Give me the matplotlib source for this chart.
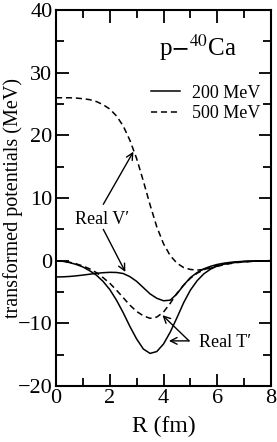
import matplotlib
matplotlib.use("Agg")
import matplotlib.pyplot as plt
from matplotlib.ticker import MultipleLocator

plt.rcParams['font.family'] = ['Liberation Serif', 'DejaVu Serif']
plt.rcParams['mathtext.fontset'] = 'stix'

# --- data (R in fm, potentials in MeV) ---
R = [0.0, 0.25, 0.5, 0.75, 1.0, 1.25, 1.5, 1.75, 2.0, 2.25, 2.5, 2.75, 3.0, 3.25,
     3.5, 3.75, 4.0, 4.25, 4.5, 4.75, 5.0, 5.25, 5.5, 5.75, 6.0, 6.25, 6.5, 6.75,
     7.0, 7.25, 7.5, 7.75, 8.0]

v_200 = [-2.6, -2.58, -2.52, -2.42, -2.3, -2.16, -2.02, -1.92, -1.86, -1.88, -2.05, -2.55,
         -3.3, -4.3, -5.3, -6.0, -6.4, -6.3, -5.3, -3.9, -2.7, -1.9, -1.3, -0.9,
         -0.6, -0.4, -0.26, -0.17, -0.1, -0.06, -0.03, -0.015, 0.0]

v_500 = [26.0, 26.0, 26.0, 25.95, 25.85, 25.7, 25.4, 24.9, 24.2, 23.1, 21.5, 19.2,
         16.3, 12.7, 8.9, 5.4, 2.7, 0.8, -0.4, -1.1, -1.4, -1.5, -1.4, -1.2,
         -0.9, -0.65, -0.45, -0.3, -0.2, -0.13, -0.08, -0.04, 0.0]

t_200 = [0.0, -0.1, -0.3, -0.6, -1.0, -1.6, -2.3, -3.3, -4.6, -6.3, -8.3, -10.5,
         -12.5, -14.1, -14.8, -14.5, -13.3, -11.4, -9.1, -6.7, -4.7, -3.2, -2.1, -1.35,
         -0.85, -0.55, -0.35, -0.22, -0.14, -0.09, -0.05, -0.02, 0.0]

t_500 = [0.0, -0.08, -0.25, -0.5, -0.85, -1.3, -1.9, -2.7, -3.6, -4.7, -5.9, -7.1,
         -8.1, -8.8, -9.2, -9.0, -8.2, -6.8, -5.2, -3.9, -2.8, -2.0, -1.45, -1.05,
         -0.75, -0.52, -0.36, -0.24, -0.16, -0.1, -0.06, -0.03, 0.0]

fig = plt.figure(figsize=(2.77, 4.42), dpi=100)
ax = fig.add_axes([0.2022, 0.1267, 0.7762, 0.8506])

ax.plot(R, v_200, color='black', lw=1.1, ls='-', label='200 MeV')
ax.plot(R, v_500, color='black', lw=1.1, ls=(0, (4, 2.5)), label='500 MeV')
ax.plot(R, t_200, color='black', lw=1.1, ls='-')
ax.plot(R, t_500, color='black', lw=1.1, ls=(0, (4, 2.5)))

ax.set_xlim(0, 8)
ax.set_ylim(-20, 40)
ax.xaxis.set_major_locator(MultipleLocator(2))
ax.xaxis.set_minor_locator(MultipleLocator(1))
ax.yaxis.set_major_locator(MultipleLocator(10))
ax.yaxis.set_minor_locator(MultipleLocator(5))
ax.tick_params(which='both', direction='in', top=True, right=True, width=1.3,
               labelsize=16, pad=2.5)
ax.tick_params(which='major', length=9)
ax.tick_params(which='minor', length=5.5)
for s in ax.spines.values():
    s.set_linewidth(1.5)

ax.set_xlabel('R (fm)', fontsize=17, labelpad=5)
ax.set_ylabel('transformed potentials (MeV)', fontsize=14.5)
ax.yaxis.set_label_coords(-0.152, 0.5)

# legend
ax.text(5.28, 34.0, r'p$-$$^{40}$Ca', fontsize=18, ha='center', va='center')
ax.legend(loc='upper right', bbox_to_anchor=(1.01, 0.835), frameon=False,
          fontsize=13, handlelength=1.6, handletextpad=0.7, labelspacing=0.2,
          borderpad=0.2)

# annotations
arrow = dict(arrowstyle='->', color='black', lw=1.0, shrinkA=0, shrinkB=0,
             mutation_scale=12)
ax.text(1.72, 6.6, "Real V\u2032", fontsize=13, ha='center', va='center')
ax.annotate('', xy=(2.88, 17.4), xytext=(1.76, 9.0), arrowprops=arrow)
ax.annotate('', xy=(2.58, -1.8), xytext=(1.76, 5.0), arrowprops=arrow)
ax.text(6.28, -13.0, "Real T\u2032", fontsize=13, ha='center', va='center')
ax.annotate('', xy=(3.96, -8.7), xytext=(4.95, -12.8), arrowprops=arrow)
ax.annotate('', xy=(4.2, -12.8), xytext=(4.95, -12.8), arrowprops=arrow)

fig.savefig('out.png', dpi=100)
